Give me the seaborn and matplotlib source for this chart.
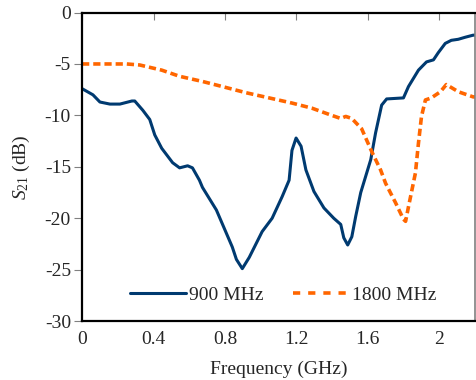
import matplotlib
matplotlib.use("Agg")
import matplotlib.pyplot as plt
import seaborn as sns
import pandas as pd

# 900 MHz series
f900 = [0.000, 0.061, 0.100, 0.156, 0.212, 0.279, 0.295, 0.340, 0.379, 0.407, 0.446,
        0.507, 0.546, 0.591, 0.618, 0.657, 0.674, 0.752, 0.841, 0.864, 0.897, 0.936,
        1.008, 1.064, 1.120, 1.159, 1.175, 1.198, 1.226, 1.253, 1.298, 1.354, 1.409,
        1.448, 1.465, 1.487, 1.510, 1.532, 1.560, 1.616, 1.643, 1.677, 1.705, 1.799,
        1.827, 1.883, 1.928, 1.967, 1.994, 2.033, 2.067, 2.106, 2.145, 2.189, 2.200]
s900 = [-7.4, -8.0, -8.7, -8.9, -8.9, -8.6, -8.6, -9.5, -10.4, -11.9, -13.2,
        -14.6, -15.1, -14.9, -15.1, -16.3, -17.0, -19.2, -22.8, -24.0, -24.9, -23.8,
        -21.3, -20.0, -17.9, -16.3, -13.4, -12.2, -13.0, -15.3, -17.4, -19.0, -20.0,
        -20.6, -21.9, -22.6, -21.8, -19.8, -17.5, -14.3, -11.7, -9.0, -8.4, -8.3,
        -7.2, -5.6, -4.8, -4.6, -3.9, -3.0, -2.7, -2.6, -2.4, -2.2, -2.2]

# 1800 MHz series
f1800 = [0.000, 0.250, 0.323, 0.446, 0.546, 0.674, 0.786, 0.919, 1.047, 1.175, 1.287,
         1.398, 1.448, 1.476, 1.510, 1.565, 1.621, 1.671, 1.699, 1.755, 1.799, 1.811,
         1.827, 1.866, 1.883, 1.900, 1.922, 1.955, 2.006, 2.039, 2.106, 2.189, 2.200]
s1800 = [-5.0, -5.0, -5.1, -5.6, -6.2, -6.7, -7.2, -7.8, -8.3, -8.8, -9.3,
         -10.0, -10.3, -10.1, -10.3, -11.3, -13.5, -15.3, -16.6, -18.5, -20.1, -20.3,
         -18.9, -15.6, -12.7, -10.1, -8.5, -8.3, -7.7, -7.0, -7.7, -8.2, -8.2]

labels = ["900 MHz", "1800 MHz"]
xticks = [0, 0.4, 0.8, 1.2, 1.6, 2]
xticklabels = ["0", "0.4", "0.8", "1.2", "1.6", "2"]
yticks = [0, -5, -10, -15, -20, -25, -30]

sns.set_style("white")
plt.rcParams['font.family'] = ['Liberation Serif', 'DejaVu Serif']
plt.rcParams['mathtext.fontset'] = 'custom'
plt.rcParams['mathtext.rm'] = 'Liberation Serif'
plt.rcParams['mathtext.it'] = 'Liberation Serif:italic'

FS = 14

fig = plt.figure(figsize=(4.77, 3.80), dpi=100)
ax = fig.add_axes([0.172, 0.155, 0.824, 0.812])

df1 = pd.DataFrame({"f": f900, "s": s900})
df2 = pd.DataFrame({"f": f1800, "s": s1800})
sns.lineplot(data=df1, x="f", y="s", ax=ax, color="#003a70", linewidth=2.2,
             label=labels[0], sort=False)
sns.lineplot(data=df2, x="f", y="s", ax=ax, color="#ff6600", linewidth=2.6,
             label=labels[1], sort=False, dashes=False)
ax.lines[1].set_dashes([2.0, 1.1])

ax.set_xlim(0, 2.2)
ax.set_ylim(-30, 0)
ax.set_xticks(xticks)
ax.set_xticklabels(xticklabels)
ax.set_yticks(yticks)
ax.set_yticklabels([str(v) for v in yticks])

ax.tick_params(axis='x', which='both', top=True, bottom=False, direction='in',
               length=5, color='#808080', labelsize=FS, pad=7)
ax.tick_params(axis='y', which='both', left=True, direction='out', length=6,
               color='#808080', labelsize=FS, pad=2)

for side in ['left', 'bottom', 'top']:
    ax.spines[side].set_color('black')
    ax.spines[side].set_linewidth(1.6)
ax.spines['right'].set_color('#808080')
ax.spines['right'].set_linewidth(1.2)

ax.set_xlabel("Frequency (GHz)", fontsize=FS, labelpad=9)
ax.set_ylabel(r"$S_{\mathrm{21}}$ (dB)", fontsize=FS, labelpad=9)

leg = ax.legend(loc='center', bbox_to_anchor=(0.512, 0.084), ncol=2, frameon=False,
                fontsize=FS, handlelength=2.9, handletextpad=0.15,
                columnspacing=1.5)
leg.get_lines()[1].set_dashes([2.0, 2.2])

fig.savefig("out.png", dpi=100)
